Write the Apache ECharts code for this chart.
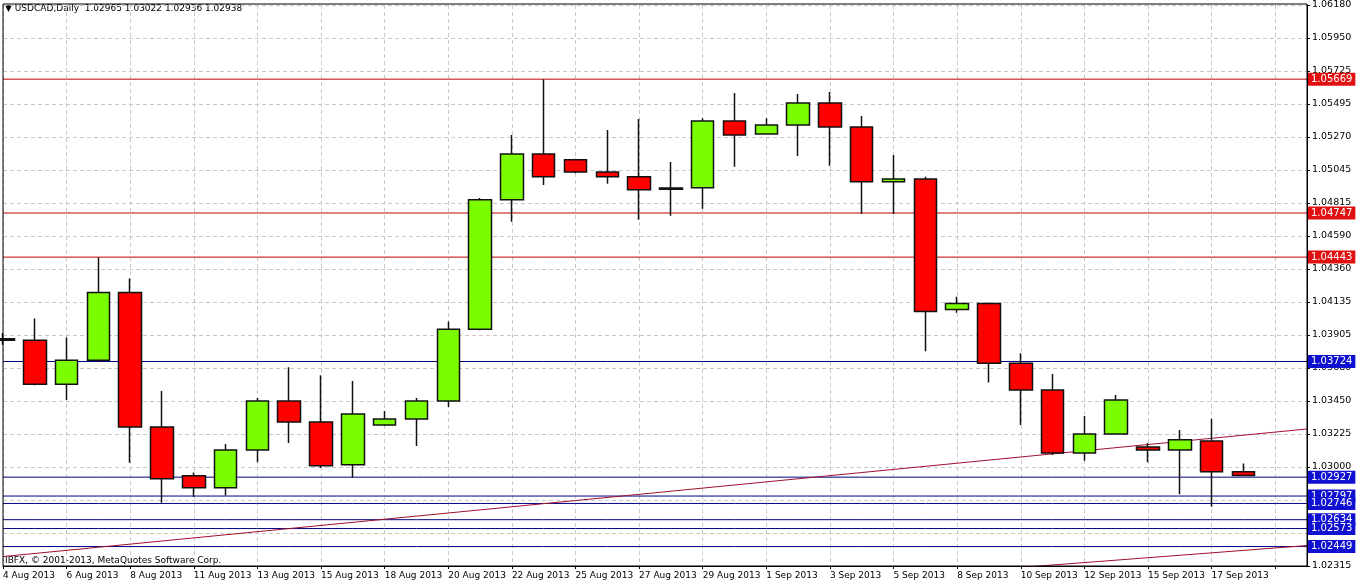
<!DOCTYPE html>
<html>
<head>
<meta charset="utf-8">
<script src="https://cdn.jsdelivr.net/npm/echarts@6/dist/echarts.min.js"></script>
<style>
  html, body { margin: 0; padding: 0; background: #fff; }
  #chart { width: 1362px; height: 587px; }
</style>
</head>
<body>
<div id="chart"></div>
<script>
var dates = ['4 Aug 2013', '5 Aug 2013', '6 Aug 2013', '7 Aug 2013', '8 Aug 2013', '9 Aug 2013',
  '11 Aug 2013', '12 Aug 2013', '13 Aug 2013', '14 Aug 2013', '15 Aug 2013', '16 Aug 2013',
  '18 Aug 2013', '19 Aug 2013', '20 Aug 2013', '21 Aug 2013', '22 Aug 2013', '23 Aug 2013',
  '25 Aug 2013', '26 Aug 2013', '27 Aug 2013', '28 Aug 2013', '29 Aug 2013', '30 Aug 2013',
  '1 Sep 2013', '2 Sep 2013', '3 Sep 2013', '4 Sep 2013', '5 Sep 2013', '6 Sep 2013',
  '8 Sep 2013', '9 Sep 2013', '10 Sep 2013', '11 Sep 2013', '12 Sep 2013', '13 Sep 2013',
  '15 Sep 2013', '16 Sep 2013', '17 Sep 2013', '18 Sep 2013', '', '']

// open, close, low, high
var ohlc = [
  [1.03870, 1.03880, 1.03840, 1.03920],
  [1.03870, 1.03568, 1.03560, 1.04021],
  [1.03568, 1.03733, 1.03458, 1.03890],
  [1.03733, 1.04200, 1.03720, 1.04440],
  [1.04200, 1.03273, 1.03026, 1.04296],
  [1.03273, 1.02916, 1.02751, 1.03520],
  [1.02936, 1.02854, 1.02792, 1.02960],
  [1.02854, 1.03115, 1.02800, 1.03156],
  [1.03115, 1.03451, 1.03030, 1.03472],
  [1.03451, 1.03307, 1.03163, 1.03685],
  [1.03307, 1.03005, 1.02990, 1.03630],
  [1.03012, 1.03362, 1.02923, 1.03589],
  [1.03287, 1.03328, 1.03280, 1.03383],
  [1.03328, 1.03451, 1.03142, 1.03472],
  [1.03451, 1.03946, 1.03410, 1.04000],
  [1.03946, 1.04838, 1.03940, 1.04850],
  [1.04838, 1.05154, 1.04687, 1.05284],
  [1.05154, 1.04996, 1.04940, 1.05669],
  [1.05113, 1.05030, 1.05020, 1.05120],
  [1.05030, 1.04996, 1.04948, 1.05319],
  [1.04996, 1.04907, 1.04701, 1.05394],
  [1.04910, 1.04920, 1.04728, 1.05099],
  [1.04921, 1.05381, 1.04776, 1.05400],
  [1.05381, 1.05285, 1.05065, 1.05573],
  [1.05291, 1.05353, 1.05290, 1.05400],
  [1.05353, 1.05504, 1.05140, 1.05566],
  [1.05504, 1.05339, 1.05072, 1.05580],
  [1.05339, 1.04962, 1.04742, 1.05415],
  [1.04962, 1.04982, 1.04740, 1.05147],
  [1.04982, 1.04069, 1.03795, 1.04996],
  [1.04083, 1.04124, 1.04060, 1.04170],
  [1.04124, 1.03712, 1.03580, 1.04130],
  [1.03712, 1.03527, 1.03287, 1.03780],
  [1.03527, 1.03094, 1.03080, 1.03637],
  [1.03094, 1.03225, 1.03040, 1.03348],
  [1.03225, 1.03458, 1.03220, 1.03493],
  [1.03135, 1.03115, 1.03030, 1.03163],
  [1.03115, 1.03184, 1.02810, 1.03252],
  [1.03177, 1.02964, 1.02724, 1.03330],
  [1.02965, 1.02938, 1.02936, 1.03022]
]

var yTicks = [1.02315, 1.02545, 1.02770, 1.03000, 1.03225, 1.03450, 1.03680, 1.03905, 1.04135,
  1.04360, 1.04590, 1.04815, 1.05045, 1.05270, 1.05495, 1.05725, 1.05950, 1.06180]

var redLevels = [1.05669, 1.04747, 1.04443]
var blueLevels = [1.03724, 1.02927, 1.02797, 1.02746, 1.02634, 1.02573, 1.02449]

// trend lines: [categoryIndex, price] pairs
var trendLines = [
  [[0, 1.02380], [41, 1.03259]],
  [[32.3, 1.02305], [41, 1.02456]]
]

var yMin = yTicks[0], yMax = yTicks[yTicks.length - 1]
var yStep = (yMax - yMin) / (yTicks.length - 1)

// one flat line series per level, label tag on the price scale
function levelSeries(v, line, tag) {
  return {
    type: 'line',
    data: dates.map(function() { return v }),
    symbol: 'none',
    silent: true,
    lineStyle: { color: line, width: 1 },
    endLabel: {
      show: true, formatter: v.toFixed(5), distance: 1,
      color: '#fff', backgroundColor: tag,
      padding: [2, 3, 1, 3], fontSize: 10, fontFamily: 'DejaVu Sans'
    },
    z: 3
  }
}

var series = [{
  type: 'candlestick',
  data: ohlc,
  barWidth: 23,
  itemStyle: {
    color: '#7cfc00', color0: '#ff0000',
    borderColor: '#111', borderColor0: '#111', borderWidth: 1.5
  },
  z: 5
}]
redLevels.forEach(function(v) { series.push(levelSeries(v, '#c00000', '#e01010')) })
blueLevels.forEach(function(v) { series.push(levelSeries(v, '#000080', '#1010d0')) })
trendLines.forEach(function(t) {
  series.push({
    type: 'line', data: t, symbol: 'none', silent: true, clip: true,
    lineStyle: { color: '#a01030', width: 1 }, z: 4
  })
})

var chart = echarts.init(document.getElementById('chart'))
chart.setOption({
  animation: false,
  backgroundColor: '#fff',
  textStyle: { fontFamily: 'DejaVu Sans' },
  graphic: [
    { type: 'text', left: 5, top: 4, style: { text: '\u25BC USDCAD,Daily  1.02965 1.03022 1.02936 1.02938', fontSize: 9, fontFamily: 'DejaVu Sans', fill: '#000' } },
    { type: 'text', left: 5, top: 556, style: { text: 'IBFX, \u00A9 2001-2013, MetaQuotes Software Corp.', fontSize: 9, fontFamily: 'DejaVu Sans', fill: '#000' } },
    { type: 'rect', shape: { x: 3, y: 4, width: 1304, height: 562 }, style: { fill: 'none', stroke: '#000', lineWidth: 1 }, z: 10 }
  ],
  grid: { left: 3, right: 55, top: 4, bottom: 21 },
  xAxis: {
    type: 'category',
    data: dates,
    boundaryGap: false,
    axisLine: { lineStyle: { color: '#000' } },
    axisTick: { interval: 1, length: 3, lineStyle: { color: '#000' } },
    axisLabel: { interval: 1, align: 'left', margin: 5, fontSize: 9, color: '#000', fontFamily: 'DejaVu Sans' },
    splitLine: { show: true, interval: 1, lineStyle: { color: '#c8c8c8', type: [4, 3] } }
  },
  yAxis: {
    type: 'value',
    position: 'right',
    min: yMin, max: yMax, interval: yStep,
    axisLine: { show: true, lineStyle: { color: '#000' } },
    axisTick: { show: true, length: 3, lineStyle: { color: '#000' } },
    axisLabel: {
      fontSize: 9.5, color: '#000', margin: 5, fontFamily: 'DejaVu Sans',
      formatter: function(v) {
        var i = Math.round((v - yMin) / yStep)
        return yTicks[i] !== undefined ? yTicks[i].toFixed(5) : ''
      }
    },
    splitLine: { show: true, lineStyle: { color: '#c8c8c8', type: [4, 3] } }
  },
  series: series
})
</script>
</body>
</html>
